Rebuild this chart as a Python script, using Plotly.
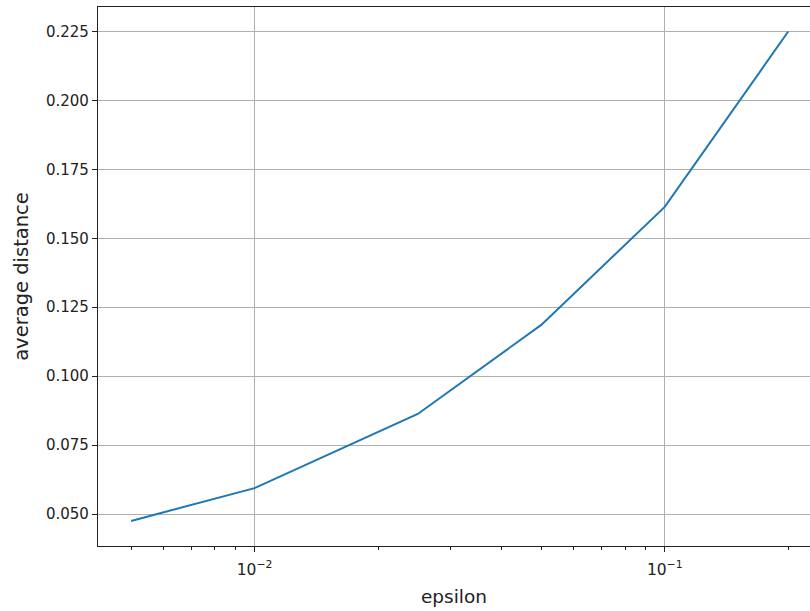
import numpy as np
import plotly.graph_objects as go

# Average distance as a function of epsilon
epsilon = [0.005, 0.01, 0.025, 0.05, 0.1, 0.2]
avg_distance = [0.0475, 0.0594, 0.0863, 0.1186, 0.1614, 0.225]

y_ticks = [0.050, 0.075, 0.100, 0.125, 0.150, 0.175, 0.200, 0.225]

fig = go.Figure()
fig.add_trace(go.Scatter(
    x=epsilon, y=avg_distance, mode="lines",
    line=dict(color="#1f77b4", width=2),
    showlegend=False,
))

grid = "#b0b0b0"

fig.update_layout(
    width=810, height=611,
    margin=dict(l=98, r=0, t=7, b=65),
    paper_bgcolor="white", plot_bgcolor="white",
    font=dict(family="DejaVu Sans", size=15, color="#222222"),
    xaxis=dict(
        type="log",
        range=[-2.3817, -0.6459],
        tickvals=[0.01, 0.1],
        ticktext=["10<sup>−2</sup>", "10<sup>−1</sup>"],
        ticks="outside", ticklen=5, tickwidth=1, tickcolor="#222222",
        ticklabelstandoff=4,
        minor=dict(ticks="outside", ticklen=3, tickwidth=0.8, tickcolor="#222222",
                   tickvals=[0.005, 0.006, 0.007, 0.008, 0.009,
                             0.02, 0.03, 0.04, 0.05, 0.06, 0.07, 0.08, 0.09,
                             0.2],
                   showgrid=False),
        showgrid=True, gridcolor=grid, gridwidth=1,
        showline=True, linecolor="#222222", linewidth=1.2, mirror=True,
        zeroline=False,
        title=dict(text="epsilon", font=dict(size=18.5), standoff=12),
        tickfont=dict(size=15.5),
    ),
    yaxis=dict(
        range=[0.0384, 0.2339],
        tickvals=y_ticks,
        ticktext=[f"{v:.3f}" for v in y_ticks],
        ticks="outside", ticklen=5, tickwidth=1, tickcolor="#222222",
        showgrid=True, gridcolor=grid, gridwidth=1,
        showline=True, linecolor="#222222", linewidth=1.2, mirror=False,
        zeroline=False,
        title=dict(text="average distance", font=dict(size=19.5), standoff=12),
        tickfont=dict(size=15),
    ),
)

fig.write_html("out.html")
